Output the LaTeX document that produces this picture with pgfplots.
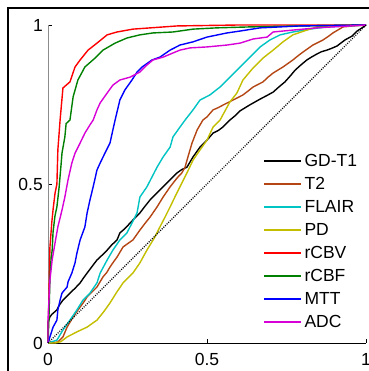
\documentclass[border=0pt]{standalone}
\usepackage{fontspec}
\setmainfont{Liberation Sans}
\usepackage{pgfplots}
\pgfplotsset{compat=1.18}
\definecolor{cT2}{RGB}{180,70,20}
\definecolor{cFL}{RGB}{0,195,195}
\definecolor{cPD}{RGB}{195,190,0}
\definecolor{cCBV}{RGB}{255,0,0}
\definecolor{cCBF}{RGB}{0,128,0}
\definecolor{cMTT}{RGB}{0,0,255}
\definecolor{cADC}{RGB}{215,0,215}
\begin{document}
\fontsize{17.5}{21}\selectfont
\begin{tikzpicture}[x=1pt,y=1pt]
\begin{axis}[
  at={(48pt,28pt)}, anchor=south west,
  scale only axis, width=318pt, height=318pt,
  xmin=0, xmax=1, ymin=0, ymax=1,
  axis x line*=bottom, axis y line*=left,
  x axis line style={-, black, line width=0.8pt},
  y axis line style={-, black!45, line width=0.8pt},
  xtick={0,0.5,1}, ytick={0,0.5,1},
  tick align=inside, major tick length=4pt,
  tick style={black, line width=0.6pt},
  /pgf/number format/assume math mode=true,
  ticklabel style={font=\fontsize{17.5}{21}\selectfont, inner sep=0pt},
  yticklabel style={xshift=-5pt},
  xticklabel style={yshift=-10pt},
  clip=false,
  legend cell align=left,
  legend style={draw=none, fill=none, inner sep=0pt, at={(0.676,0.594)}, anchor=north west,
    font=\fontsize{17.5}{21}\selectfont, row sep=10.4pt, column sep=2.5pt,
    nodes={inner sep=0pt, text height=12.6pt, text depth=0pt}},
  legend image code/.code={\draw[#1, line width=1.9pt] (0pt,0pt) -- (37pt,0pt);},
  every axis plot/.append style={line width=1.4pt},
]
% GD-T1
\addplot[black] coordinates {
(0,0) (0,0.066) (0.006,0.082) (0.012,0.09) (0.028,0.104) (0.035,0.118) (0.047,0.135) (0.058,0.146) (0.069,0.157) (0.085,0.172) (0.101,0.189) (0.112,0.205) (0.123,0.220) (0.138,0.240) (0.154,0.261) (0.170,0.276) (0.186,0.292) (0.200,0.308) (0.217,0.324) (0.226,0.346) (0.242,0.360) (0.258,0.377) (0.272,0.392) (0.289,0.409) (0.305,0.430) (0.321,0.450) (0.343,0.472) (0.362,0.491) (0.384,0.513) (0.406,0.535) (0.420,0.545) (0.437,0.553) (0.456,0.585) (0.478,0.616) (0.500,0.638) (0.519,0.660) (0.535,0.668) (0.550,0.679) (0.572,0.701) (0.590,0.716) (0.604,0.730) (0.635,0.749) (0.667,0.767) (0.688,0.778) (0.708,0.789) (0.727,0.806) (0.745,0.821) (0.762,0.840) (0.777,0.858) (0.796,0.875) (0.814,0.890) (0.830,0.900) (0.846,0.909) (0.860,0.916) (0.877,0.921) (0.893,0.927) (0.909,0.934) (0.922,0.944) (0.934,0.953) (0.956,0.965) (0.972,0.981) (0.986,0.990) (1,1)};
\addlegendentry{GD-T1}
% T2
\addplot[cT2] coordinates {
(0,0) (0.031,0.003) (0.047,0.019) (0.060,0.050) (0.079,0.082) (0.090,0.098) (0.101,0.113) (0.112,0.128) (0.123,0.145) (0.138,0.160) (0.154,0.176) (0.173,0.208) (0.185,0.222) (0.195,0.239) (0.206,0.255) (0.217,0.270) (0.236,0.302) (0.250,0.312) (0.267,0.324) (0.289,0.355) (0.305,0.376) (0.321,0.396) (0.343,0.428) (0.362,0.459) (0.384,0.491) (0.406,0.519) (0.421,0.535) (0.431,0.553) (0.440,0.585) (0.453,0.629) (0.469,0.670) (0.487,0.701) (0.500,0.711) (0.519,0.733) (0.535,0.740) (0.550,0.748) (0.582,0.764) (0.613,0.780) (0.630,0.793) (0.645,0.805) (0.676,0.821) (0.692,0.836) (0.708,0.849) (0.739,0.868) (0.770,0.890) (0.786,0.903) (0.802,0.915) (0.833,0.937) (0.865,0.953) (0.880,0.963) (0.896,0.975) (0.928,0.994) (0.959,0.997) (1,1)};
\addlegendentry{T2}
% FLAIR
\addplot[cFL] coordinates {
(0,0) (0.028,0.009) (0.047,0.041) (0.069,0.072) (0.091,0.104) (0.110,0.135) (0.132,0.157) (0.154,0.189) (0.164,0.220) (0.186,0.261) (0.204,0.292) (0.226,0.324) (0.248,0.346) (0.264,0.377) (0.280,0.409) (0.289,0.459) (0.311,0.491) (0.327,0.522) (0.343,0.553) (0.362,0.585) (0.384,0.616) (0.393,0.648) (0.415,0.679) (0.431,0.701) (0.456,0.733) (0.478,0.764) (0.509,0.780) (0.541,0.805) (0.572,0.836) (0.604,0.868) (0.635,0.899) (0.667,0.931) (0.698,0.953) (0.730,0.969) (0.770,0.978) (0.824,0.987) (0.877,0.994) (0.940,0.997) (1,1)};
\addlegendentry{FLAIR}
% PD
\addplot[cPD] coordinates {
(0,0) (0.022,0) (0.040,0.004) (0.060,0.019) (0.091,0.035) (0.123,0.050) (0.154,0.072) (0.175,0.098) (0.195,0.126) (0.215,0.158) (0.236,0.189) (0.267,0.220) (0.289,0.252) (0.311,0.292) (0.336,0.333) (0.352,0.365) (0.368,0.396) (0.384,0.428) (0.399,0.459) (0.415,0.491) (0.437,0.535) (0.456,0.575) (0.478,0.607) (0.500,0.638) (0.519,0.679) (0.541,0.701) (0.572,0.758) (0.594,0.786) (0.613,0.827) (0.645,0.865) (0.676,0.896) (0.708,0.921) (0.739,0.947) (0.770,0.969) (0.814,0.984) (0.846,0.994) (0.896,0.997) (1,1)};
\addlegendentry{PD}
% rCBV
\addplot[cCBV] coordinates {
(0,0) (0.003,0.15) (0.006,0.30) (0.012,0.38) (0.016,0.42) (0.022,0.47) (0.028,0.50) (0.031,0.607) (0.035,0.66) (0.038,0.701) (0.047,0.802) (0.069,0.821) (0.085,0.868) (0.101,0.890) (0.126,0.921) (0.154,0.943) (0.186,0.969) (0.217,0.978) (0.267,0.987) (0.406,0.997) (0.6,1) (1,1)};
\addlegendentry{rCBV}
% rCBF
\addplot[cCBF] coordinates {
(0,0) (0.003,0.08) (0.006,0.20) (0.010,0.27) (0.013,0.29) (0.016,0.35) (0.022,0.40) (0.028,0.428) (0.035,0.49) (0.041,0.56) (0.044,0.597) (0.053,0.648) (0.057,0.69) (0.069,0.701) (0.079,0.774) (0.094,0.827) (0.116,0.868) (0.148,0.896) (0.173,0.921) (0.211,0.943) (0.248,0.959) (0.289,0.969) (0.330,0.975) (0.393,0.978) (0.456,0.987) (0.531,0.991) (0.635,0.994) (0.792,0.997) (1,1)};
\addlegendentry{rCBF}
% MTT
\addplot[cMTT] coordinates {
(0,0) (0.006,0.019) (0.016,0.050) (0.028,0.072) (0.031,0.104) (0.038,0.135) (0.044,0.157) (0.060,0.176) (0.063,0.192) (0.075,0.220) (0.085,0.252) (0.091,0.283) (0.101,0.324) (0.116,0.365) (0.123,0.409) (0.132,0.450) (0.142,0.491) (0.154,0.544) (0.164,0.566) (0.179,0.597) (0.195,0.629) (0.204,0.670) (0.211,0.701) (0.226,0.764) (0.242,0.796) (0.264,0.827) (0.280,0.852) (0.296,0.868) (0.327,0.890) (0.352,0.899) (0.384,0.921) (0.415,0.937) (0.456,0.947) (0.500,0.962) (0.563,0.975) (0.604,0.981) (0.667,0.991) (0.730,0.994) (0.792,0.997) (1,1)};
\addlegendentry{MTT}
% ADC
\addplot[cADC] coordinates {
(0,0) (0,0.072) (0.003,0.135) (0.006,0.198) (0.013,0.261) (0.022,0.314) (0.031,0.365) (0.044,0.418) (0.053,0.459) (0.063,0.513) (0.075,0.566) (0.085,0.597) (0.101,0.629) (0.116,0.660) (0.132,0.686) (0.142,0.701) (0.154,0.733) (0.164,0.755) (0.186,0.786) (0.204,0.811) (0.226,0.827) (0.258,0.836) (0.289,0.852) (0.311,0.874) (0.330,0.890) (0.362,0.899) (0.393,0.912) (0.415,0.921) (0.447,0.928) (0.500,0.931) (0.563,0.937) (0.604,0.943) (0.645,0.956) (0.689,0.962) (0.708,0.978) (0.770,0.984) (0.846,0.991) (0.896,0.994) (0.950,0.997) (1,1)};
\addlegendentry{ADC}
% chance line
\addplot[black, line width=1.1pt, dash pattern=on 1pt off 1.3pt, forget plot] coordinates {(0,0) (1,1)};
\end{axis}
\draw[black, line width=1.4pt] (8,-10) -- (8,363) -- (380,363);
\pgfresetboundingbox
\useasboundingbox (0,0) rectangle (368,371);
\end{tikzpicture}
\end{document}
